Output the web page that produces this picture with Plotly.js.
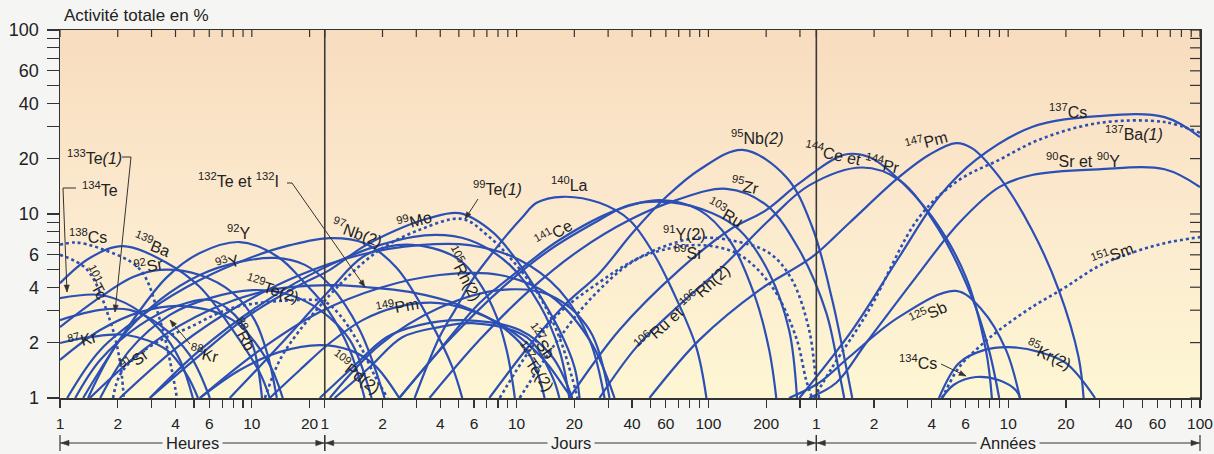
<!DOCTYPE html>
<html><head><meta charset="utf-8">
<script src="https://cdn.plot.ly/plotly-3.0.1.min.js"></script>
<style>html,body{margin:0;padding:0;background:#f5f5f3;}#chart{width:1214px;height:454px;}</style>
</head><body><div id="chart"></div>
<script>
// ---- time axis values in hours ; activity in % of total ----
const hourTicks = [1,2,4,6,10,20];
const hourMinor = [3,5,7,8,9];
const dayTicks = [1,2,4,6,10,20,40,60,100,200];
const dayMinor = [3,5,7,8,9,30,50,70,80,90,300];
const yearTicks = [1,2,4,6,10,20,40,60,100];
const yearMinor = [3,5,7,8,9,30,50,70,80,90];
const yTicks = [1,2,4,6,10,20,40,60,100];
const yMinor = [3,5,7,8,9,30,50,70,80,90];

// dotted series
const t_Cs138 = [1,1.2,1.62,2.61,3.32,3.74,4.07];
const v_Cs138 = [6.8,7.0,6.5,5.0,2.65,1.6,1.0];
const t_Tc101 = [1,1.38,1.82,2.05,2.15];
const v_Tc101 = [6.0,5.0,2.65,1.6,1.0];
const t_Sr91 = [1.89,2.05,2.55,3.52,4.65,7.96,17.8,24,28.7,36.5,43.6,51];
const v_Sr91 = [1.0,1.33,1.71,2.12,2.4,3.09,3.41,3.33,2.83,1.94,1.33,1.0];
const t_Te99 = [11.7,14,17.8,25.5,31.2,46.3,74.7,125,173,235,317,401,468,499];
const v_Te99 = [1.0,1.61,2.34,3.63,4.5,6.37,8.2,9.4,7.5,5.4,3.55,2.14,1.28,1.0];
const t_Y91 = [196,281,401,649,929,1381,2074,3090,4980,6550,8040,8740,9060];
const v_Y91 = [1.0,1.82,2.9,4.26,5.42,6.61,7.4,7.22,6.14,4.38,2.34,1.25,1.0];
const t_Sr89 = [249,378,576,964,1381,2233,3483,5160,6870,7760,8340];
const v_Sr89 = [1.0,1.94,3.41,5.5,6.37,6.77,6.0,4.01,2.14,1.25,1.0];
const t_Ba137 = [8530,10610,16500,30100,48600,78700,126800,258900,573000,876600];
const v_Ba137 = [1.0,1.47,3.01,9.6,15.3,19.7,25.3,31.2,31.6,27.6];
const t_Sm151 = [39600,41500,48600,61700,78700,116700,174800,258900,383500,573000,876600];
const v_Sm151 = [1.0,1.1,1.47,1.89,2.34,3.12,4.01,5.2,6.14,6.94,7.49];

// solid series
const t_Te134 = [1,1.62,2.4,3.32,4.22,4.93];
const v_Te134 = [3.49,3.63,3.12,2.34,1.61,1.0];
const t_Te133 = [1,1.62,2.31,3.32,4.75,6.04];
const v_Te133 = [2.65,3.01,3.01,2.49,1.71,1.0];
const t_Ba139 = [1,1.43,2.13,3.61,5.36,7.96,11,12.4];
const v_Ba139 = [4.21,5.77,6.69,5.42,4.01,2.34,1.37,1.0];
const t_Sr92 = [1,1.62,2.4,3.32,5.36,7.96,10.35,12.1,13.5];
const v_Sr92 = [2.43,3.53,4.54,4.97,4.66,3.72,2.65,1.71,1.0];
const t_Kr87 = [1,1.43,2.23,3.61,4.59,5.24];
const v_Kr87 = [1.99,2.14,2.2,1.82,1.33,1.0];
const t_Kr88 = [1,1.62,2.61,4.37,7.96,12,14.5];
const v_Kr88 = [1.61,2.34,2.93,3.16,2.65,1.61,1.0];
const t_Rb88 = [1.2,1.62,2.61,4.22,6.04,8.14,10.1,11.3];
const v_Rb88 = [1.0,1.61,2.49,3.2,3.41,2.83,1.94,1.0];
const t_Y92 = [1.32,1.62,2.4,3.61,5.36,8.66,13.7,18.9,24.9,32.4,38.7];
const v_Y92 = [1.0,1.42,2.65,4.54,6.14,7.04,5.84,4.21,3.01,1.82,1.0];
const t_Y93 = [1.4,2.05,3.32,5.36,8.66,13.2,18.9,25.5,36.5,49.2];
const v_Y93 = [1.0,2.07,3.41,4.66,5.49,5.77,5.29,4.11,2.34,1.0];
const t_Te129 = [1.62,2.31,3.74,6.04,10.1,15.8,22.6,32.4,42.1];
const v_Te129 = [1.0,1.82,2.83,3.49,3.86,3.63,3.01,2.07,1.0];
const t_Nb97 = [1.09,1.62,2.94,5.36,9.75,15.8,25.5,38.7,56.8,84.4,111,125];
const v_Nb97 = [1.0,1.82,3.01,4.38,5.77,6.77,7.4,6.94,5.1,2.65,1.47,1.0];
const t_Te132 = [1.43,2.94,6.04,12.4,25.5,38.7,66.3,121,196,281,336];
const v_Te132 = [1.0,1.94,3.01,3.86,4.11,4.01,3.77,3.2,2.49,1.71,1.0];
const t_Pd109 = [5.36,8.66,14,22.6,32.4,43.6,58.7];
const v_Pd109 = [1.0,1.42,1.78,1.94,1.82,1.51,1.0];
const t_Mo99 = [2.94,5.36,9.75,17.8,25.5,37.8,56.8,84.4,121,180,229,305,401,481,511];
const v_Mo99 = [1.0,1.71,2.83,4.11,4.97,6.61,8.19,9.51,10.1,7.98,5.99,3.86,2.34,1.47,1.0];
const t_Rh105 = [7.67,14,25.5,37.8,56.8,87.5,121,154,189,213,229,235];
const v_Rh105 = [1.0,1.94,3.86,5.84,6.77,6.53,5.63,4.21,2.76,1.82,1.21,1.0];
const t_Pm149 = [12.4,17.8,25.5,37.8,56.8,95,167,249,344,436,468];
const v_Pm149 = [1.0,1.42,1.99,2.65,3.12,3.28,2.76,2.14,1.55,1.1,1.0];
const t_Sb127 = [22.6,33.6,50.4,74.7,125,249,369,468];
const v_Sb127 = [1.0,1.47,2.14,2.49,2.65,2.34,1.67,1.0];
const t_Te127 = [27,41.1,60.9,95,141,271,369,401];
const v_Te127 = [1.0,1.47,2.14,2.43,2.55,2.14,1.3,1.0];
const t_La140 = [70.6,95,117,141,173,213,258,305,416,649,929,1256,1556,2074,2343];
const v_La140 = [1.0,2.14,3.12,4.38,5.84,7.68,9.63,11.5,12.4,11.5,9.28,5.99,3.86,1.89,1.0];
const t_Ce141 = [58.7,95,154,249,401,795,1333,2154,3090,4169,4980,5420];
const v_Ce141 = [1.0,1.82,3.28,4.97,7.22,10.5,11.9,10.5,7.22,3.63,1.82,1.0];
const t_Ru103 = [58.7,107,196,356,649,929,1501,2518,3483,4980,6320,6950];
const v_Ru103 = [1.0,2.07,3.86,6.37,9.28,11.2,11.6,10.1,8.19,4.77,2.34,1.0];
const t_Zr95 = [84.4,154,281,511,929,1633,2977,4800,7150,9880,11540,12250];
const v_Zr95 = [1.0,2.07,3.86,6.37,9.28,11.9,13.7,11.2,6.37,2.9,1.37,1.0];
const t_Nb95 = [173,281,427,649,964,1448,2154,3612,6100,8340,10610,12550,13490];
const v_Nb95 = [1.0,1.94,3.2,4.77,7.88,12.4,17.4,22.3,15.9,8.5,3.41,1.47,1.0];
const t_Ce144 = [452,824,1694,3090,4800,7150,12250,16500,21700,35200,52800,67100,72100];
const v_Ce144 = [1.0,2.34,4.97,8.19,10.5,14.7,21.0,20.4,16.7,9.63,4.54,1.82,1.0];
const t_Ru106 = [649,1011,1694,2838,4980,8040,15190,23700,38200,56700,69600,78700];
const v_Ru106 = [1.0,1.89,3.2,5.16,9.28,14.3,17.9,15.3,8.19,3.53,1.82,1.0];
const t_Pm147 = [1183,2154,4420,8340,13010,23700,33980,46800,56700,78700,116700,160900,204000,216800];
const v_Pm147 = [1.0,2.07,3.86,5.84,8.94,15.9,21.0,24.3,22.8,15.9,8.19,3.86,1.67,1.0];
const t_Cs137 = [7150,13490,23700,38200,59500,116700,258900,573000,876600];
const v_Cs137 = [1.0,2.34,5.84,12.4,19.7,29.7,34.0,33.6,26.2];
const t_Sr90 = [8040,11130,15930,29000,48600,78700,116700,258900,573000,876600];
const v_Sr90 = [1.0,1.21,1.99,4.54,8.94,14.0,16.3,17.5,17.5,14.0];
const t_Sb125 = [6320,9060,13010,23700,46800,64000,85500,101000];
const v_Sb125 = [1.0,1.21,1.67,2.76,3.82,3.01,1.82,1.0];
const t_Kr85 = [38200,48600,65500,88700,126800,174800,248800];
const v_Kr85 = [1.0,1.55,1.82,1.89,1.78,1.55,1.0];
const t_Cs134 = [39600,45700,59500,78700,96400,101000];
const v_Cs134 = [1.0,1.18,1.3,1.25,1.1,1.0];
const t_Ce143 = [2.94,5.36,11,22.6,46.3,84.4,136,221,317,401,452];
const v_Ce143 = [1.0,1.82,3.2,4.97,6.77,7.68,7.22,5.29,3.2,1.82,1.0];
const t_Ba140 = [2.05,4.22,8.66,17.8,36.5,74.7,136,249,401,576,690];
const v_Ba140 = [1.0,1.94,3.2,4.66,5.99,6.77,6.77,5.63,3.86,2.07,1.0];
const t_I131 = [5.36,11,22.6,46.3,95,196,356,576,778];
const v_I131 = [1.0,1.82,2.93,3.96,4.66,4.66,3.63,2.07,1.0];
const t_Nd147 = [25.5,46.3,95,196,356,576,732];
const v_Nd147 = [1.0,1.94,3.09,3.86,3.63,2.34,1.0];

const HOURS_PER_DAY = 24, HOURS_PER_YEAR = 8766, XMAX = 876600;

const dotted = [[t_Cs138,v_Cs138],[t_Tc101,v_Tc101],[t_Sr91,v_Sr91],[t_Te99,v_Te99],[t_Y91,v_Y91],
  [t_Sr89,v_Sr89],[t_Ba137,v_Ba137],[t_Sm151,v_Sm151]];
const solid = [[t_Te134,v_Te134],[t_Te133,v_Te133],[t_Ba139,v_Ba139],[t_Sr92,v_Sr92],[t_Kr87,v_Kr87],
  [t_Kr88,v_Kr88],[t_Rb88,v_Rb88],[t_Y92,v_Y92],[t_Y93,v_Y93],[t_Te129,v_Te129],[t_Nb97,v_Nb97],
  [t_Te132,v_Te132],[t_Pd109,v_Pd109],[t_Mo99,v_Mo99],[t_Rh105,v_Rh105],[t_Pm149,v_Pm149],
  [t_Sb127,v_Sb127],[t_Te127,v_Te127],[t_La140,v_La140],[t_Ce141,v_Ce141],[t_Ru103,v_Ru103],
  [t_Zr95,v_Zr95],[t_Nb95,v_Nb95],[t_Ce144,v_Ce144],[t_Ru106,v_Ru106],[t_Pm147,v_Pm147],
  [t_Cs137,v_Cs137],[t_Sr90,v_Sr90],[t_Sb125,v_Sb125],[t_Kr85,v_Kr85],[t_Cs134,v_Cs134],
  [t_Ce143,v_Ce143],[t_Ba140,v_Ba140],[t_I131,v_I131],[t_Nd147,v_Nd147]];

const BLUE = '#2b4fb4';
const traces = [];
solid.forEach(([t,v]) => traces.push({type:'scatter',mode:'lines',x:t,y:v,hoverinfo:'skip',showlegend:false,
  line:{color:BLUE,width:2.2,shape:'spline',smoothing:1}}));
dotted.forEach(([t,v]) => traces.push({type:'scatter',mode:'lines',x:t,y:v,hoverinfo:'skip',showlegend:false,
  line:{color:BLUE,width:2.6,shape:'spline',smoothing:1,dash:'dot'}}));

const toH = (arr,k) => arr.map(v=>v*k);
const xMajor = hourTicks.concat(toH(dayTicks,HOURS_PER_DAY), toH(yearTicks,HOURS_PER_YEAR));
const xText = hourTicks.concat(dayTicks, yearTicks).map(String);
const xMinorVals = hourMinor.concat(toH(dayMinor,HOURS_PER_DAY), toH(yearMinor,HOURS_PER_YEAR));
const XR = [0, Math.log10(XMAX)];
const FONT = 'Liberation Sans, Arial, sans-serif';

// geometry helpers (plot area: 60..1200 px wide, 30..398 px high)
const PX = px => (px-60)/1140, PY = py => (398-py)/368;
const fx = h => Math.log10(h)/Math.log10(XMAX);
const fy = v => Math.log10(v)/2;
const px = f => 60 + f*1140;

const labels = [
 ['<sup>138</sup>Cs',88,236,0],['<sup>101</sup>Tc',96,282,62],['<sup>139</sup>Ba',152,244,22],
 ['<sup>92</sup>Sr',148,265,-10],['<sup>87</sup>Kr',82,339,-15],['<sup>91</sup>Sr',134,360,-35],
 ['<sup>88</sup>Rb',244,334,62],['<sup>92</sup>Y',238,232,0],['<sup>93</sup>Y',228,262,-20],
 ['<sup>129</sup>Te(2)',272,288,18],['<sup>97</sup>Nb(2)',357,232,20],['<sup>99</sup>Mo',414,220,-15],
 ['<sup>105</sup>Rh(2)',464,273,62],['<sup>149</sup>Pm',397,306,-10],['<sup>109</sup>Pd(2)',356,372,38],
 ['<sup>140</sup>La',569,184,0],['<sup>141</sup>Ce',553,233,-30],['<sup>127</sup>Sb',541,341,55],
 ['<sup>127</sup>Te(2)',535,366,55],['<sup>95</sup>Nb<i>(2)</i>',757,137,0],['<sup>95</sup>Zr',745,185,12],
 ['<sup>103</sup>Ru',725,212,30],['<sup>91</sup>Y(2)',684,233,0],['<sup>89</sup>Sr',688,252,0],
 ['<sup>106</sup>Ru et <sup>106</sup>Rh(2)',682,307,-42],['<sup>144</sup>Ce et <sup>144</sup>Pr',852,157,12],
 ['<sup>147</sup>Pm',926,141,-15],['<sup>137</sup>Cs',1068,111,0],['<sup>137</sup>Ba<i>(1)</i>',1134,133,0],
 ['<sup>90</sup>Sr et <sup>90</sup>Y',1083,160,0],['<sup>151</sup>Sm',1112,254,-20],['<sup>125</sup>Sb',928,313,-25],
 ['<sup>85</sup>Kr(2)',1049,354,25],
 ['<sup>133</sup>Te<i>(1)</i>',94,157,0],['<sup>134</sup>Te',100,189,0],['<sup>132</sup>Te et <sup>132</sup>I',238,180,0],
 ['<sup>99</sup>Te<i>(1)</i>',498,188,0],['<sup>88</sup>Kr',204,353,12],['<sup>134</sup>Cs',918,362,0]
];
// leader lines: [tail px, tail py, tip px, tip py]
const leaders = [[131,157,115,312],[63,188,67,292],[292,183,365,287],[478,199,465,219],[190,344,170,320],[941,364,966,376]];
// short horizontal stubs next to labels
const stubs = [[122,131,157],[63,76,188],[287,292,183]];

const annotations = labels.map(([t,x,y,a]) => ({text:t,xref:'paper',yref:'paper',x:PX(x),y:PY(y),
  showarrow:false,textangle:a,font:{family:FONT,size:16,color:'#222'},xanchor:'center',yanchor:'middle'}));
annotations.push({text:'Activité totale en %',xref:'paper',yref:'paper',x:PX(62),y:PY(15),xanchor:'left',yanchor:'middle',
  showarrow:false,font:{family:FONT,size:17,color:'#222'}});

const shapes = [];
const seg = (x0,y0,x1,y1,w) => shapes.push({type:'line',xref:'paper',yref:'paper',x0:PX(x0),y0:PY(y0),x1:PX(x1),y1:PY(y1),line:{color:'#333',width:w||1}});
const head = (x0,y0,x1,y1,L,W) => {
  const dx=x1-x0, dy=y1-y0, n=Math.hypot(dx,dy), ux=dx/n, uy=dy/n;
  const bx=x1-ux*L, by=y1-uy*L;
  const p=[[x1,y1],[bx-uy*W,by+ux*W],[bx+uy*W,by-ux*W]];
  shapes.push({type:'path',xref:'paper',yref:'paper',path:'M'+p.map(q=>PX(q[0])+','+PY(q[1])).join('L')+'Z',
    fillcolor:'#333',line:{color:'#333',width:0.5}});
};
leaders.forEach(([a,b,c,d]) => { seg(a,b,c,d,1); head(a,b,c,d,7,2.6); });
stubs.forEach(([a,b,y]) => seg(a,y,b,y,1));
shapes.push({type:'line',xref:'paper',yref:'paper',x0:fx(HOURS_PER_DAY),x1:fx(HOURS_PER_DAY),y0:0,y1:1,line:{color:'#3a3a3a',width:1.6}});
shapes.push({type:'line',xref:'paper',yref:'paper',x0:fx(HOURS_PER_YEAR),x1:fx(HOURS_PER_YEAR),y0:0,y1:1,line:{color:'#3a3a3a',width:1.6}});
// inward ticks on the top and right frame
xMajor.concat(xMinorVals).forEach(h => shapes.push({type:'line',xref:'paper',yref:'paper',x0:fx(h),x1:fx(h),y0:1,y1:1-7/368,line:{color:'#333',width:1.2}}));
yTicks.concat(yMinor).forEach(v => shapes.push({type:'line',xref:'paper',yref:'paper',x0:1,x1:1-10/1140,y0:fy(v),y1:fy(v),line:{color:'#333',width:1.2}}));

// unit brackets under the axis
const segs = [['Heures',1,HOURS_PER_DAY],['Jours',HOURS_PER_DAY,HOURS_PER_YEAR],['Années',HOURS_PER_YEAR,XMAX]];
const BYp = 443;
segs.forEach(([name,a,b]) => {
  const xa = px(fx(a)), xb = px(fx(b));
  seg(xa,BYp,xb,BYp,1); seg(xa,435,xa,451,1.2); seg(xb,435,xb,451,1.2);
  head(xa+14,BYp,xa+1,BYp,8,2.8); head(xb-14,BYp,xb-1,BYp,8,2.8);
  annotations.push({text:name,xref:'paper',yref:'paper',x:PX((xa+xb)/2),y:PY(BYp),showarrow:false,xanchor:'center',yanchor:'middle',
    bgcolor:'#f5f5f3',borderpad:3,font:{family:FONT,size:16.5,color:'#222'}});
});

const grad = "<svg xmlns='http://www.w3.org/2000/svg' width='100' height='100' preserveAspectRatio='none'>" +
 "<defs><linearGradient id='g' x1='0' y1='0' x2='0' y2='1'><stop offset='0' stop-color='#f8dcbf'/>" +
 "<stop offset='0.55' stop-color='#fcebcf'/><stop offset='1' stop-color='#fdf6d3'/></linearGradient></defs>" +
 "<rect width='100' height='100' fill='url(#g)'/></svg>";

const axisCommon = {type:'log',showgrid:false,zeroline:false,linecolor:'#333',linewidth:1.5,tickcolor:'#333',tickwidth:1.2};
const layout = {
  width:1214,height:454,margin:{l:60,r:14,t:30,b:56},
  paper_bgcolor:'#f5f5f3',plot_bgcolor:'rgba(0,0,0,0)',
  font:{family:FONT,color:'#222'},hovermode:false,
  xaxis:Object.assign({},axisCommon,{range:XR,tickmode:'array',tickvals:xMajor,ticktext:xText,ticks:'outside',ticklen:8,
    minor:{tickmode:'array',tickvals:xMinorVals,ticks:'outside',ticklen:8,tickcolor:'#333',tickwidth:1.2},
    showline:true,mirror:true,tickfont:{size:15.5,family:FONT,color:'#222'},ticklabelstandoff:3}),
  yaxis:Object.assign({},axisCommon,{range:[0,2],tickmode:'array',tickvals:yTicks,ticktext:yTicks.map(String),ticks:'outside',ticklen:12,
    minor:{tickmode:'array',tickvals:yMinor,ticks:'outside',ticklen:12,tickcolor:'#333',tickwidth:1.2},
    showline:true,mirror:true,tickfont:{size:18,family:FONT,color:'#222'},ticklabelstandoff:4}),
  images:[{source:'data:image/svg+xml;charset=utf-8,'+encodeURIComponent(grad),xref:'paper',yref:'paper',x:0,y:1,
    sizex:1,sizey:1,sizing:'stretch',xanchor:'left',yanchor:'top',layer:'below'}],
  shapes:shapes,annotations:annotations
};
Plotly.newPlot('chart',traces,layout,{staticPlot:true,displayModeBar:false});
</script></body></html>
